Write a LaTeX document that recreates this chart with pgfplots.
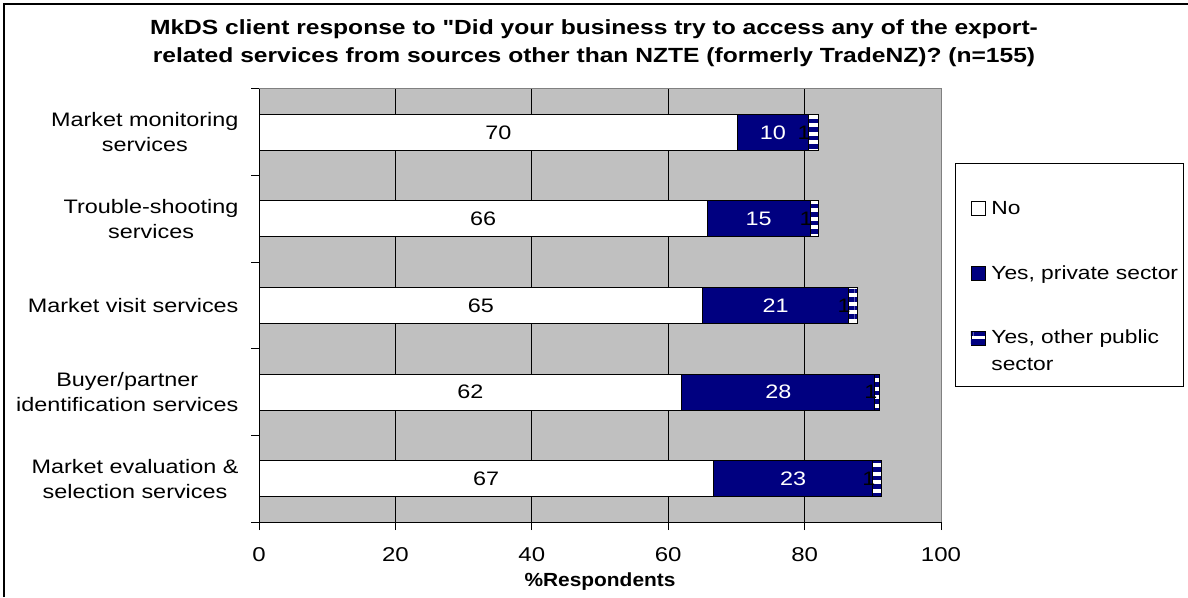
\documentclass[border=0pt]{standalone}
\usepackage{fontspec}
\setmainfont{Liberation Sans}[FakeStretch=1.2]
\newfontfamily\titlefont{Liberation Sans}[FakeStretch=1.2]
\newfontfamily\xlabfont{Liberation Sans}[FakeStretch=1.1]
\usepackage{pgfplots}
\pgfplotsset{compat=1.18}
\usepackage{pgfplotstable}
\usetikzlibrary{patterns.meta}
\definecolor{navyx}{HTML}{000080}
\definecolor{silverx}{HTML}{C0C0C0}
\definecolor{grayx}{HTML}{808080}
\newcommand\lbl{\fontsize{19.5}{25}\selectfont}

\pgfplotstableread{
pos no   nol priv privl pub publ
4   70.2 70  10.3 10    1.5 1
3   65.7 66  15.1 15    1.2 1
2   65.1 65  21.3 21    1.4 1
1   62.0 62  28.3 28    0.7 1
0   66.6 67  23.4 23    1.3 1
}\data

\begin{document}
\begin{tikzpicture}
\useasboundingbox (0pt,0pt) rectangle (1188pt,597pt);
\draw[line width=1.5pt] (4pt,0pt) -- (4pt,593pt) -- (1188pt,593pt);
\node[font=\fontsize{20.5}{28}\selectfont\titlefont\bfseries, align=center] at (594pt,554pt)
  {MkDS client response to \symbol{34}Did your business try to access any of the export-\\related services from sources other than NZTE (formerly TradeNZ)? (n=155)};
\begin{axis}[
  at={(259pt,75pt)}, anchor=south west,
  scale only axis, width=682pt, height=433pt,
  xbar stacked, bar width=36pt,
  xmin=0, xmax=100, ymin=-0.5, ymax=4.5,
  axis background/.style={fill=silverx, draw=grayx, line width=1pt},
  axis x line=bottom, axis y line=left,
  axis line style={black, line width=1pt, -},
  tick align=outside, major tick length=8pt,
  tick style={black, line width=1pt},
  xtick={0,20,...,100},
  extra x ticks={20,40,60,80}, extra x tick labels={},
  extra x tick style={xmajorgrids=true, major tick length=0pt, major grid style={black, line width=0.8pt}},
  ytick={-0.5,0.5,...,4.5}, yticklabels={},
  extra y ticks={0,1,2,3,4},
  extra y tick labels={{Market evaluation \&\\selection services},{Buyer/partner\\identification services},{Market visit services},{Trouble-shooting\\services},{Market monitoring\\services}},
  extra y tick style={major tick length=0pt},
  yticklabel style={align=center, font=\lbl, xshift=-17pt},
  xticklabel style={font=\fontsize{20}{24}\selectfont, yshift=-14pt},
  /pgf/number format/assume math mode=true,
  xlabel={\xlabfont\bfseries\%Respondents},
  xlabel style={font=\fontsize{19}{24}\selectfont, yshift=4pt},
  legend style={at={(rel axis cs:1.0205,0.8291)}, anchor=north west, draw=black, line width=1pt, fill=white, font=\fontsize{19}{27}\selectfont, inner xsep=3pt, inner ysep=12pt, row sep=45.5pt, column sep=4pt, cells={align=left}},
  legend cell align=left,
]
\addplot[fill=white, draw=black, line width=1pt,
  nodes near coords, point meta=explicit symbolic,
  every node near coord/.append style={anchor=center, font=\lbl, text=black},
  legend image code/.code={\path (0pt,32.5pt); \draw[fill=white, draw=black, line width=0.8pt] (12pt,-7pt) rectangle (26pt,7pt);}]
  table[x=no, y=pos, meta=nol] {\data};
\addlegendentry{No}
\addplot[fill=navyx, draw=black, line width=1pt,
  nodes near coords, point meta=explicit symbolic,
  every node near coord/.append style={anchor=center, font=\lbl, text=white},
  legend image code/.code={\path (0pt,0pt); \draw[fill=navyx, draw=black, line width=0.8pt] (12pt,-7pt) rectangle (26pt,7pt);}]
  table[x=priv, y=pos, meta=privl] {\data};
\addlegendentry{Yes, private sector}
\addplot[fill=white, draw=black, line width=1pt,
  postaction={pattern={Lines[angle=0, distance=8.5pt, line width=4.2pt]}, pattern color=navyx},
  nodes near coords, point meta=explicit symbolic,
  visualization depends on={\thisrow{pub} \as \segw},
  every node near coord/.append style={anchor=center, xshift={-3.41pt*\segw-4pt}, font=\lbl, text=black},
  legend image code/.code={\path (0pt,0pt); \draw[fill=white, draw=black, line width=0.8pt] (12pt,6pt) rectangle (26pt,20pt); \fill[navyx] (12.6pt,6.6pt) rectangle (25.4pt,12pt);}]
  table[x=pub, y=pos, meta=publ] {\data};
\addlegendentry{Yes, other public\\sector}
\end{axis}
\end{tikzpicture}
\end{document}
